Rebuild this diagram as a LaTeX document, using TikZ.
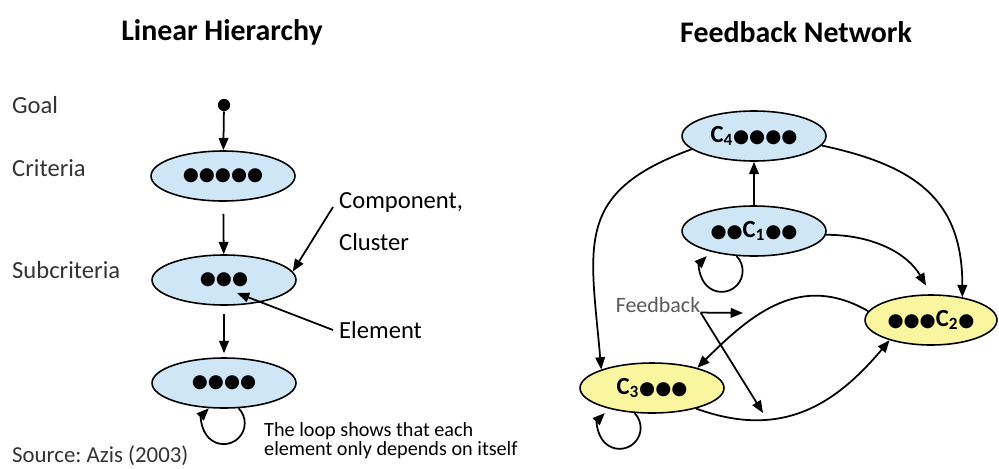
\documentclass[tikz,border=0pt]{standalone}
\usepackage{fontspec}
\setmainfont{Carlito}
\newfontfamily\dotfont{DejaVu Sans}
\usetikzlibrary{arrows.meta,shapes.geometric}
\definecolor{clblue}{RGB}{207,230,247}
\definecolor{clyellow}{RGB}{250,246,160}
\newcommand{\blob}{{\dotfont\fontsize{10.5}{10.5}\selectfont ●}}
\frenchspacing
\begin{document}
\begin{tikzpicture}[x=0.02cm,y=0.02cm,
  arr/.style={-{Triangle[length=7pt,width=5.5pt]}, line width=1pt},
  clus/.style={ellipse, draw, line width=0.9pt, fill=clblue, minimum width=2.88cm, minimum height=1cm, inner sep=0pt, font=\bfseries\fontsize{14}{14}\selectfont},
  fbclus/.style={clus, fill=clyellow},
  lvl/.style={anchor=west, font=\fontsize{14}{14}\selectfont, text=black!80},
  ttl/.style={font=\bfseries\fontsize{17}{17}\selectfont}]
\useasboundingbox (0,0) rectangle (999,468);
% titles
\node[ttl] (tlin) at (222,436) {Linear Hierarchy};
\node[ttl] (tfb) at (796,436) {Feedback Network};
% linear hierarchy
\node[lvl] (lgoal) at (6,363) {Goal};
\node[lvl] (lcrit) at (6,300) {Criteria};
\node[lvl] (lsub) at (6,198) {Subcriteria};
\node[circle, fill, inner sep=0pt, minimum size=7pt] (goal) at (224,363) {};
\node[clus] (crit) at (223,292) {\blob\blob\blob\blob\blob};
\node[clus] (sub) at (224,188) {\blob\blob\blob};
\node[clus] (alt) at (224,85) {\blob\blob\blob\blob};
\draw[arr] (goal) -- (crit);
\draw[arr, shorten <=0.24cm] (crit) -- (sub);
\draw[arr, shorten <=0.16cm, shorten >=0.08cm] (sub) -- (alt);
\draw[arr] (alt.-60) arc[start angle=45, end angle=-225, radius=0.42cm];
\node[lvl, text=black] (comp) at (333,266) {Component,};
\node[lvl, text=black] (clust) at (333,226) {Cluster};
\node[lvl, text=black] (elem) at (333,138) {Element};
\coordinate (elemtip) at (237,175);
\draw[arr] ([yshift=-0.1cm]comp.west) -- (sub.7);
\draw[arr] (elem.west) -- (elemtip);
\node[anchor=north west, align=left, font=\fontsize{11.5}{9}\selectfont] (loopnote) at (258,52) {The loop shows that each\\element only depends on itself};
\node[lvl, font=\fontsize{13}{13}\selectfont] (src) at (6,12) {Source: Azis (2003)};
% feedback network
\node[clus] (c4) at (754,332) {C\textsubscript{4}\blob\blob\blob\blob};
\node[clus] (c1) at (754,237) {\blob\blob C\textsubscript{1}\blob\blob};
\node[fbclus, minimum width=2.64cm] (c2) at (931,148) {\blob\blob\blob C\textsubscript{2}\blob};
\node[fbclus] (c3) at (652,80) {C\textsubscript{3}\blob\blob\blob};
\draw[arr] (c1) -- (c4);
\draw[arr] (c1.235) arc[start angle=45, end angle=-225, radius=0.42cm];
\draw[arr] (c3.235) arc[start angle=45, end angle=-225, radius=0.42cm];
\draw[arr] (c4.192) to[out=200, in=95, looseness=1.35] (c3.160);
\draw[arr] (c4.-8) to[out=-12, in=90, looseness=1.2] (c2.36);
\draw[arr, shorten >=0.2cm] (c1.-3) to[out=0, in=120] (c2.north);
\draw[arr] (c2.172) to[out=150, in=45, looseness=1.1] (c3.24);
\draw[arr] (c3.-25) to[out=-20, in=-130, looseness=1.1] (c2.206);
\node[font=\fontsize{12.5}{12.5}\selectfont, text=black!65, inner sep=0pt] (fb) at (658,163) {Feedback};
\coordinate (fbup) at (743,155);
\coordinate (fbdown) at (763,55);
\draw[arr] (fb.base east) -- (fbup);
\draw[arr] (fb.base east) -- (fbdown);
\end{tikzpicture}
\end{document}
